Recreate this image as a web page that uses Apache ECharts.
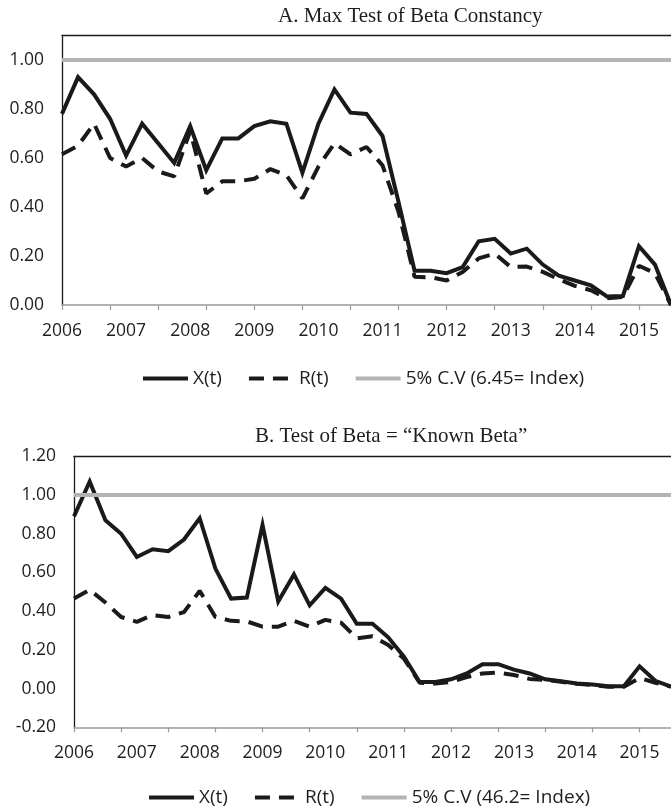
<!DOCTYPE html>
<html>
<head>
<meta charset="utf-8">
<script src="https://cdn.jsdelivr.net/npm/echarts@6/dist/echarts.min.js"></script>
<style>
  html, body { margin: 0; padding: 0; background: #fff; }
  #chart { width: 671px; height: 806px; }
</style>
</head>
<body>
<div id="chart"></div>
<script>
// Quarterly observations, 2006Q1 .. 2015Q3
const quarters = [
  '2006Q1','2006Q2','2006Q3','2006Q4','2007Q1','2007Q2','2007Q3','2007Q4',
  '2008Q1','2008Q2','2008Q3','2008Q4','2009Q1','2009Q2','2009Q3','2009Q4',
  '2010Q1','2010Q2','2010Q3','2010Q4','2011Q1','2011Q2','2011Q3','2011Q4',
  '2012Q1','2012Q2','2012Q3','2012Q4','2013Q1','2013Q2','2013Q3','2013Q4',
  '2014Q1','2014Q2','2014Q3','2014Q4','2015Q1','2015Q2','2015Q3'
];

// Panel A: max test of beta constancy
const xA = [0.78, 0.93, 0.86, 0.76, 0.61, 0.74, 0.66, 0.58, 0.73, 0.55,
            0.68, 0.68, 0.73, 0.75, 0.74, 0.54, 0.74, 0.88, 0.785, 0.78,
            0.69, 0.42, 0.14, 0.14, 0.13, 0.155, 0.26, 0.27, 0.21, 0.23,
            0.165, 0.12, 0.10, 0.08, 0.035, 0.037, 0.24, 0.165, 0.0];
const rA = [0.615, 0.65, 0.74, 0.60, 0.565, 0.60, 0.545, 0.525, 0.71, 0.455,
            0.505, 0.505, 0.515, 0.555, 0.53, 0.435, 0.565, 0.66, 0.615, 0.645,
            0.57, 0.38, 0.115, 0.113, 0.10, 0.135, 0.19, 0.21, 0.155, 0.157,
            0.135, 0.105, 0.078, 0.06, 0.027, 0.033, 0.16, 0.13, 0.0];
const cvA = 1.0;

// Panel B: test of beta = known beta
const xB = [0.89, 1.07, 0.87, 0.80, 0.68, 0.72, 0.71, 0.77, 0.88, 0.62,
            0.465, 0.47, 0.845, 0.45, 0.59, 0.43, 0.52, 0.465, 0.335, 0.335,
            0.265, 0.165, 0.034, 0.034, 0.048, 0.078, 0.126, 0.126, 0.098, 0.078,
            0.048, 0.038, 0.026, 0.021, 0.012, 0.012, 0.115, 0.04, 0.01];
const rB = [0.465, 0.51, 0.445, 0.37, 0.345, 0.38, 0.37, 0.395, 0.505, 0.37,
            0.35, 0.347, 0.32, 0.32, 0.35, 0.32, 0.355, 0.34, 0.26, 0.27,
            0.225, 0.155, 0.03, 0.026, 0.034, 0.06, 0.078, 0.083, 0.07, 0.05,
            0.045, 0.035, 0.025, 0.018, 0.01, 0.01, 0.055, 0.03, 0.01];
const cvB = 1.0;

const titleA = 'A. Max Test of Beta Constancy';
const titleB = 'B. Test of Beta = \u201CKnown Beta\u201D';
const nameX = 'X(t)';
const nameR = 'R(t)';
const nameCvA = '5% C.V (6.45= Index)';
const nameCvB = '5% C.V (46.2= Index)';

const SANS = '"Open Sans", "Liberation Sans", sans-serif';
const SERIF = '"Liberation Serif", "Times New Roman", serif';
const INK = '#1e1e1e';
const BLACK = '#1a1a1a';
const GREY_CV = '#b3b3b3';
const GREY_AXIS = '#9a9a9a';

const chart = echarts.init(document.getElementById('chart'), null, { renderer: 'canvas' });

function bottomAxis(gridIndex) {
  return {
    type: 'category', gridIndex, data: quarters, boundaryGap: false, position: 'bottom',
    axisLine: { show: true, onZero: false, lineStyle: { color: GREY_AXIS, width: 1.5 } },
    axisTick: { show: true, interval: 2, length: 5, lineStyle: { color: GREY_AXIS, width: 1.2 } },
    axisLabel: {
      interval: 3, margin: 17, color: INK, fontFamily: SANS, fontSize: 17.5,
      formatter: v => v.slice(0, 4)
    },
    splitLine: { show: false }
  };
}
function topBorder(gridIndex) {
  return {
    type: 'category', gridIndex, data: quarters, boundaryGap: false, position: 'top',
    axisLine: { show: true, onZero: false, lineStyle: { color: BLACK, width: 1.3 } },
    axisTick: { show: false }, axisLabel: { show: false }, splitLine: { show: false }
  };
}
function valueAxis(gridIndex, min, max) {
  return {
    type: 'value', gridIndex, min, max, interval: 0.2,
    axisLine: { show: true, lineStyle: { color: BLACK, width: 1.3 } },
    axisTick: { show: false },
    splitLine: { show: false },
    axisLabel: {
      margin: 18, color: INK, fontFamily: SANS, fontSize: 17.5,
      showMaxLabel: max === 1.2, formatter: v => v.toFixed(2)
    }
  };
}
function cvSeries(name, level, xi, yi) {
  return {
    name, type: 'line', xAxisIndex: xi, yAxisIndex: yi, data: [], symbol: 'none',
    lineStyle: { color: GREY_CV, width: 4 }, itemStyle: { color: GREY_CV },
    markLine: {
      silent: true, symbol: 'none', label: { show: false },
      lineStyle: { color: GREY_CV, width: 4, type: 'solid' },
      data: [{ yAxis: level }]
    },
    z: 1
  };
}
function solidSeries(name, data, xi, yi) {
  return {
    name, type: 'line', xAxisIndex: xi, yAxisIndex: yi, data, symbol: 'none',
    lineStyle: { color: BLACK, width: 4, join: 'miter' }, itemStyle: { color: BLACK }, z: 3
  };
}
function dashedSeries(name, data, xi, yi) {
  return {
    name, type: 'line', xAxisIndex: xi, yAxisIndex: yi, data, symbol: 'none',
    lineStyle: { color: BLACK, width: 4, type: [15, 9] }, itemStyle: { color: BLACK }, z: 2
  };
}
function legendAt(left, top, cvName) {
  return {
    left, top, orient: 'horizontal', itemWidth: 45, itemHeight: 14, itemGap: 25,
    data: [nameX, nameR, cvName], selectedMode: false,
    itemStyle: { opacity: 0 },
    lineStyle: { width: 4 },
    textStyle: { color: INK, fontFamily: SANS, fontSize: 19 }
  };
}

chart.setOption({
  animation: false,
  backgroundColor: '#ffffff',
  title: [
    { text: titleA, left: 273, top: 1, textStyle: { fontFamily: SERIF, fontSize: 21, fontWeight: 'normal', color: INK } },
    { text: titleB, left: 250, top: 421, textStyle: { fontFamily: SERIF, fontSize: 21, fontWeight: 'normal', color: INK } }
  ],
  grid: [
    { left: 62, top: 35.5, width: 611.8, height: 269.5, containLabel: false },
    { left: 74, top: 456.3, width: 605.3, height: 271, containLabel: false }
  ],
  xAxis: [bottomAxis(0), topBorder(0), bottomAxis(1), topBorder(1)],
  yAxis: [valueAxis(0, 0, 1.1), valueAxis(1, -0.2, 1.2)],
  legend: [legendAt(136, 364, nameCvA), legendAt(142, 783, nameCvB)],
  series: [
    cvSeries(nameCvA, cvA, 0, 0),
    dashedSeries(nameR, rA, 0, 0),
    solidSeries(nameX, xA, 0, 0),
    cvSeries(nameCvB, cvB, 2, 1),
    dashedSeries(nameR, rB, 2, 1),
    solidSeries(nameX, xB, 2, 1)
  ]
});
</script>
</body>
</html>
